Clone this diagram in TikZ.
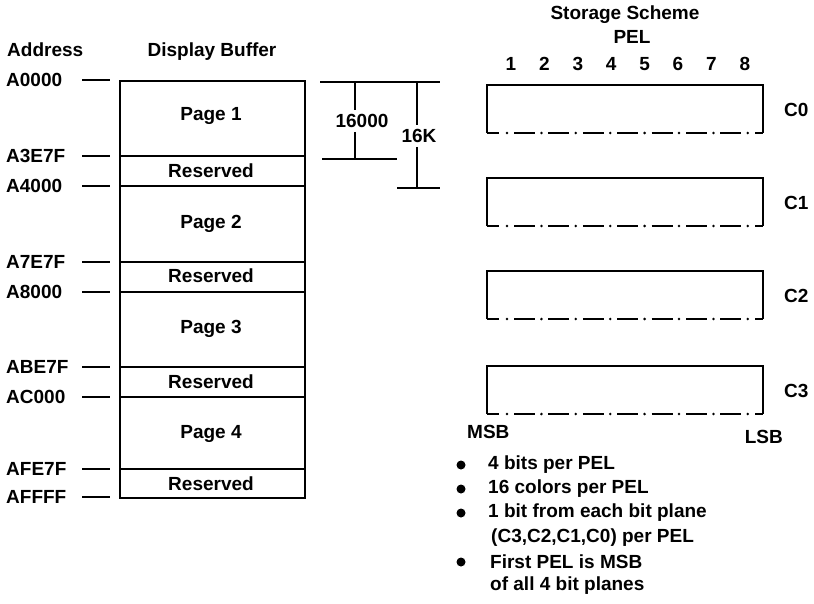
\documentclass[tikz,border=0pt]{standalone}
\usepackage{fontspec}
\setmainfont{Liberation Sans}
\begin{document}
\begin{tikzpicture}[x=1pt,y=-1pt,
  txt/.style={font=\fontsize{19}{22}\selectfont\bfseries, inner sep=0pt},
  boxline/.style={line width=2.1pt},
  thin line/.style={line width=1.5pt},
  dimline/.style={line width=1.5pt},
  bulletdot/.style={circle, fill=black, inner sep=0pt, minimum size=9pt}]
\useasboundingbox (0,0) rectangle (814,603);

% ---------- Address column ----------
\node[txt, anchor=west] (addr) at (7,50) {Address};
\node[txt] (dbuf) at (212,52) {Display Buffer};

\foreach \nm/\lab/\yy in {a0/A0000/80, a1/A3E7F/156, a2/A4000/186, a3/A7E7F/262, a4/A8000/292, a5/ABE7F/367, a6/AC000/397, a7/AFE7F/469, a8/AFFFF/497}{
  \node[txt, anchor=west] (\nm) at (6,\yy) {\lab};
  \coordinate (\nm s) at (82,\yy);
  \coordinate (\nm e) at (110,\yy);
  \draw[thin line] (\nm s) -- (\nm e);
}

% ---------- Display buffer ----------
\coordinate (bufTL) at (120,81);
\coordinate (bufBR) at (305,498);
\draw[boxline] (bufTL) rectangle (bufBR);
\foreach \yy in {156,186,262,292,367,397,469}{
  \draw[boxline] (120,\yy) -- (305,\yy);
}
\node[txt] (p1) at (211,116) {Page 1};
\node[txt] (r1) at (211,171) {Reserved};
\node[txt] (p2) at (211,224) {Page 2};
\node[txt] (r2) at (211,276) {Reserved};
\node[txt] (p3) at (211,329) {Page 3};
\node[txt] (r3) at (211,382) {Reserved};
\node[txt] (p4) at (211,434) {Page 4};
\node[txt] (r4) at (211,484) {Reserved};

% ---------- Dimension lines ----------
\coordinate (d1) at (320,82);
\coordinate (d2) at (440,82);
\draw[dimline] (d1) -- (d2);
\coordinate (d3) at (322,159);
\coordinate (d4) at (397,159);
\draw[dimline] (d3) -- (d4);
\coordinate (d5) at (397,188);
\coordinate (d6) at (440,188);
\draw[dimline] (d5) -- (d6);
\node[txt] (n16000) at (362,121) {16000};
\node[txt] (n16k) at (419,136) {16K};
\coordinate (v1t) at (355,82);
\coordinate (v1b) at (355,159);
\coordinate (v2t) at (417,82);
\coordinate (v2b) at (417,188);
\draw[dimline] (v1t) -- ([yshift=4pt]v1t |- n16000.north);
\draw[dimline] ([yshift=-4pt]v1b |- n16000.south) -- (v1b);
\draw[dimline] (v2t) -- ([yshift=4pt]v2t |- n16k.north);
\draw[dimline] ([yshift=-4pt]v2b |- n16k.south) -- (v2b);

% ---------- Storage scheme ----------
\node[txt] (ss) at (625,15) {Storage Scheme};
\node[txt] (pel) at (632,37) {PEL};
\foreach \i in {1,...,8}{
  \node[txt] (pn\i) at ({511+33.4*(\i-1)},64) {\i};
}

\foreach \nm/\top in {C0/85, C1/178, C2/271, C3/366}{
  \draw[boxline] (487,\top+48) -- (487,\top) -- (763,\top) -- (763,\top+48);
  % dash-dot bottom
  \draw[boxline] (487,\top+48) -- (499,\top+48);
  \foreach \k in {0,...,7}{
    \fill ({507+34.4*\k},\top+48) circle (1.4);
  }
  \foreach \k in {0,...,6}{
    \draw[boxline] ({514+34.4*\k},\top+48) -- ({535+34.4*\k},\top+48);
  }
  \draw[boxline] (755,\top+48) -- (763,\top+48);
  \node[txt, anchor=west] (lab\nm) at (784,\top+25) {\nm};
}

\node[txt, anchor=west] (msb) at (467,432) {MSB};
\node[txt, anchor=east] (lsb) at (783,437) {LSB};

% ---------- Notes ----------
\foreach \nm/\yy in {b1/465, b2/489, b3/513, b4/562}{
  \node[bulletdot] (\nm) at (461,\yy) {};
}
\node[txt, anchor=west] (t1) at (488,465) {4 bits per PEL};
\node[txt, anchor=west] (t2) at (488,489) {16 colors per PEL};
\node[txt, anchor=west] (t3) at (488,513) {1 bit from each bit plane};
\node[txt, anchor=west] (t4) at (491,538) {(C3,C2,C1,C0) per PEL};
\node[txt, anchor=west] (t5) at (490,562) {First PEL is MSB};
\node[txt, anchor=west] (t6) at (490,586) {of all 4 bit planes};
\end{tikzpicture}
\end{document}
